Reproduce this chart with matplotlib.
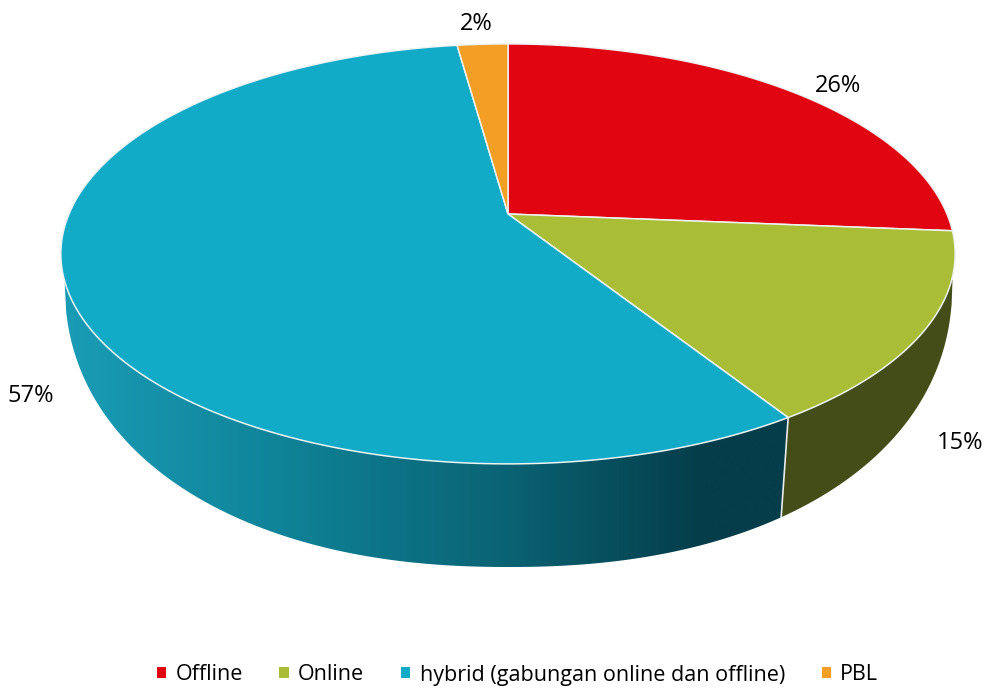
import numpy as np
import matplotlib
matplotlib.use("Agg")
import matplotlib.pyplot as plt
from matplotlib.colors import LinearSegmentedColormap
from matplotlib.patches import Patch, Polygon

categories = ["Offline", "Online", "hybrid (gabungan online dan offline)", "PBL"]
values = [26.3, 14.7, 56.8, 2.2]
colors = ["#e10512", "#a9bd37", "#11abc7", "#f39f26"]
side_online = "#444d18"
side_hybrid = ["#1a9cb6", "#0f8398", "#0a6475", "#053d4a", "#053d4a"]
side_stops = [0.0, 0.3, 0.6, 0.88, 1.0]

# perspective of the pie disc, in image pixels
cx, cy = 508, 214
a, b, k = 439, 202.4, 0.19
# outline of the underside, a slightly squared ellipse
low_cx, low_cy, low_a, low_b, low_n = 508.5, 280, 444, 287, 2.2
shrink = 0.975


def top_rim(theta):
    w = 1 + k * np.cos(theta)
    return cx + a * np.sin(theta) / w, cy - b * np.cos(theta) / w


def low_y(x):
    return low_cy + low_b * (1 - np.abs((x - low_cx) / low_a) ** low_n) ** (1 / low_n)


fig = plt.figure(figsize=(9.86, 6.92), dpi=100)
ax = fig.add_axes([0, 0, 1, 1])
ax.set_xlim(0, 986)
ax.set_ylim(692, 0)
ax.axis("off")

edges = np.cumsum([0] + values) / sum(values) * 2 * np.pi

# sides, the top of the pie covers their upper part
x0, y0 = top_rim(edges[2])
x1 = cx + shrink * (x0 - cx)
y1 = low_y(x1)
right = low_cx + low_a
left = low_cx - low_a

xs = np.linspace(left, x1, 400)
hyb = Polygon(np.column_stack([np.r_[xs, x0, cx], np.r_[low_y(xs), y0, cy]]), closed=True, fc="none", ec="none")
ax.add_patch(hyb)
cmap = LinearSegmentedColormap.from_list("side", list(zip(side_stops, side_hybrid)))
im = ax.imshow(
    np.linspace(0, 1, 512).reshape(1, -1),
    extent=(62, 790, 600, 200),
    cmap=cmap,
    aspect="auto",
    zorder=1,
)
im.set_clip_path(hyb)
ax.set_xlim(0, 986)
ax.set_ylim(692, 0)

xs = np.linspace(x1, right, 200)
ax.add_patch(
    Polygon(np.column_stack([np.r_[xs, cx, x0], np.r_[low_y(xs), cy, y0]]), closed=True, fc=side_online, ec="none", zorder=1)
)

# divider between the two sides
ax.plot([x0, x1], [y0, y1], color="#e8eeee", lw=1.2, zorder=2)

# top of the pie
for i in range(len(values)):
    t = np.linspace(edges[i], edges[i + 1], 200)
    x, y = top_rim(t)
    pts = np.column_stack([np.r_[cx, x], np.r_[cy, y]])
    ax.add_patch(Polygon(pts, closed=True, fc=colors[i], ec="#eef3f3", lw=1.1, zorder=3))

# percent labels
label_x = [838, 960, 31, 476]
label_y = [86, 443, 396, 24]
for v, lx, ly in zip(values, label_x, label_y):
    ax.text(lx, ly, f"{v:.0f}%", ha="center", va="center", fontsize=17,
            family="Open Sans", color="black", zorder=4)

handles = [Patch(fc=c, ec="none") for c in colors]
ax.legend(
    handles,
    categories,
    ncol=4,
    loc="center",
    bbox_to_anchor=(517.5 / 986, 1 - 675 / 692),
    frameon=False,
    prop={"family": "Open Sans", "size": 15.5},
    handlelength=0.42,
    handleheight=0.42,
    handletextpad=0.45,
    columnspacing=1.7,
)

fig.savefig("out.png", dpi=100)
